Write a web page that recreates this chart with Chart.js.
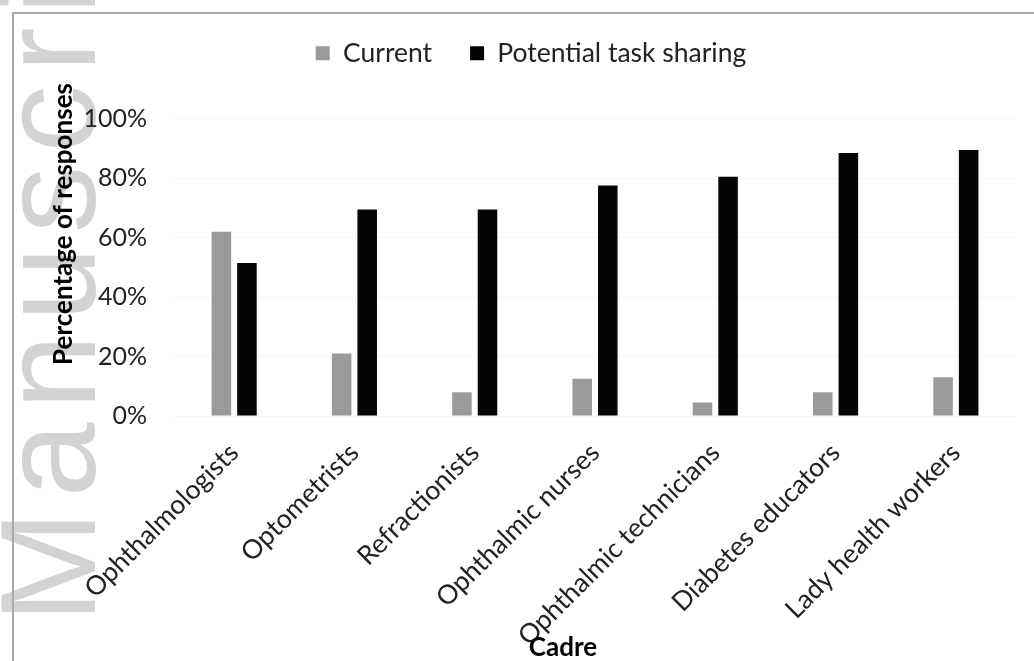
<!DOCTYPE html>
<html><head><meta charset="utf-8">
<script src="https://cdn.jsdelivr.net/npm/chart.js@4.4.1/dist/chart.umd.min.js"></script>
<style>
html,body{margin:0;padding:0;background:#fff;}
#wrap{position:relative;width:1034px;height:661px;overflow:hidden;background:#fff;}
#wm{position:absolute;left:-19px;top:623px;transform-origin:0 0;transform:rotate(-90deg);font-family:"Liberation Sans";font-weight:400;font-size:135px;line-height:135px;color:#d3d3d3;white-space:nowrap;letter-spacing:13px;}
#frame{position:absolute;left:12px;top:12px;width:1100px;height:700px;border-left:2px solid #a8a8a8;border-top:2px solid #a8a8a8;}
canvas{position:absolute;left:0;top:0;}
</style></head>
<body><div id="wrap">
<div id="wm">Manuscript</div>
<div id="frame"></div>
<canvas id="c" width="1034" height="661"></canvas>
</div>
<script>
const categories = ["Ophthalmologists","Optometrists","Refractionists","Ophthalmic nurses","Ophthalmic technicians","Diabetes educators","Lady health workers"];
const currentValues = [62, 21, 8, 12.5, 4.5, 8, 13];
const potentialValues = [51.5, 69.5, 69.5, 77.5, 80.5, 88.5, 89.5];
const seriesNames = ["Current","Potential task sharing"];
const yTicks = [0, 20, 40, 60, 80, 100];
const yTitle = "Percentage of responses";
const xTitle = "Cadre";
const FONT = "Lato, Carlito, Calibri, sans-serif";

const titlePlugin = {
  id: 'axisTitles',
  afterDraw(chart){
    const ctx = chart.ctx;
    ctx.save();
    ctx.fillStyle = '#000';
    ctx.font = 'bold 26px ' + FONT;
    ctx.textAlign = 'center';
    ctx.textBaseline = 'middle';
    ctx.translate(64, 224);
    ctx.rotate(-Math.PI/2);
    ctx.fillText(yTitle, 0, 0);
    ctx.restore();
    ctx.save();
    ctx.fillStyle = '#000';
    ctx.font = 'bold 26px ' + FONT;
    ctx.textAlign = 'center';
    ctx.textBaseline = 'middle';
    ctx.fillText(xTitle, 563, 648);
    ctx.restore();
  }
};

new Chart(document.getElementById('c'), {
  type: 'bar',
  data: {
    labels: categories,
    datasets: [
      {label: seriesNames[0], data: currentValues, backgroundColor: '#9a9a9a', categoryPercentage: 0.425, barPercentage: 0.765},
      {label: seriesNames[1], data: potentialValues, backgroundColor: '#050505', categoryPercentage: 0.425, barPercentage: 0.765}
    ]
  },
  options: {
    responsive: false,
    animation: false,
    layout: {padding: {top: 2, left: 46, right: 18, bottom: 0}},
    plugins: {
      legend: {
        position: 'top',
        labels: {boxWidth: 14, boxHeight: 14, padding: 38, color: '#222', font: {family: FONT, size: 26.5}}
      },
      subtitle: {
        display: true, text: ' ', position: 'top', weight: 500,
        font: {size: 1}, padding: {top: 0, bottom: 41}
      },
      tooltip: {enabled: false}
    },
    scales: {
      x: {
        grid: {display: false},
        border: {display: false},
        ticks: {maxRotation: 45, minRotation: 45, padding: 13, color: '#222', font: {family: FONT, size: 26.5}},
        afterFit(s){ s.height = 245; }
      },
      y: {
        min: 0, max: 100,
        afterBuildTicks(s){ s.ticks = yTicks.map(v => ({value: v})); },
        grid: {color: '#f7f7f7', drawTicks: false},
        border: {display: false},
        ticks: {padding: 27, color: '#222', font: {family: FONT, size: 25}, callback: v => v + '%'},
        afterFit(s){ s.width = 128; }
      }
    }
  },
  plugins: [titlePlugin]
});
</script>
</body></html>
